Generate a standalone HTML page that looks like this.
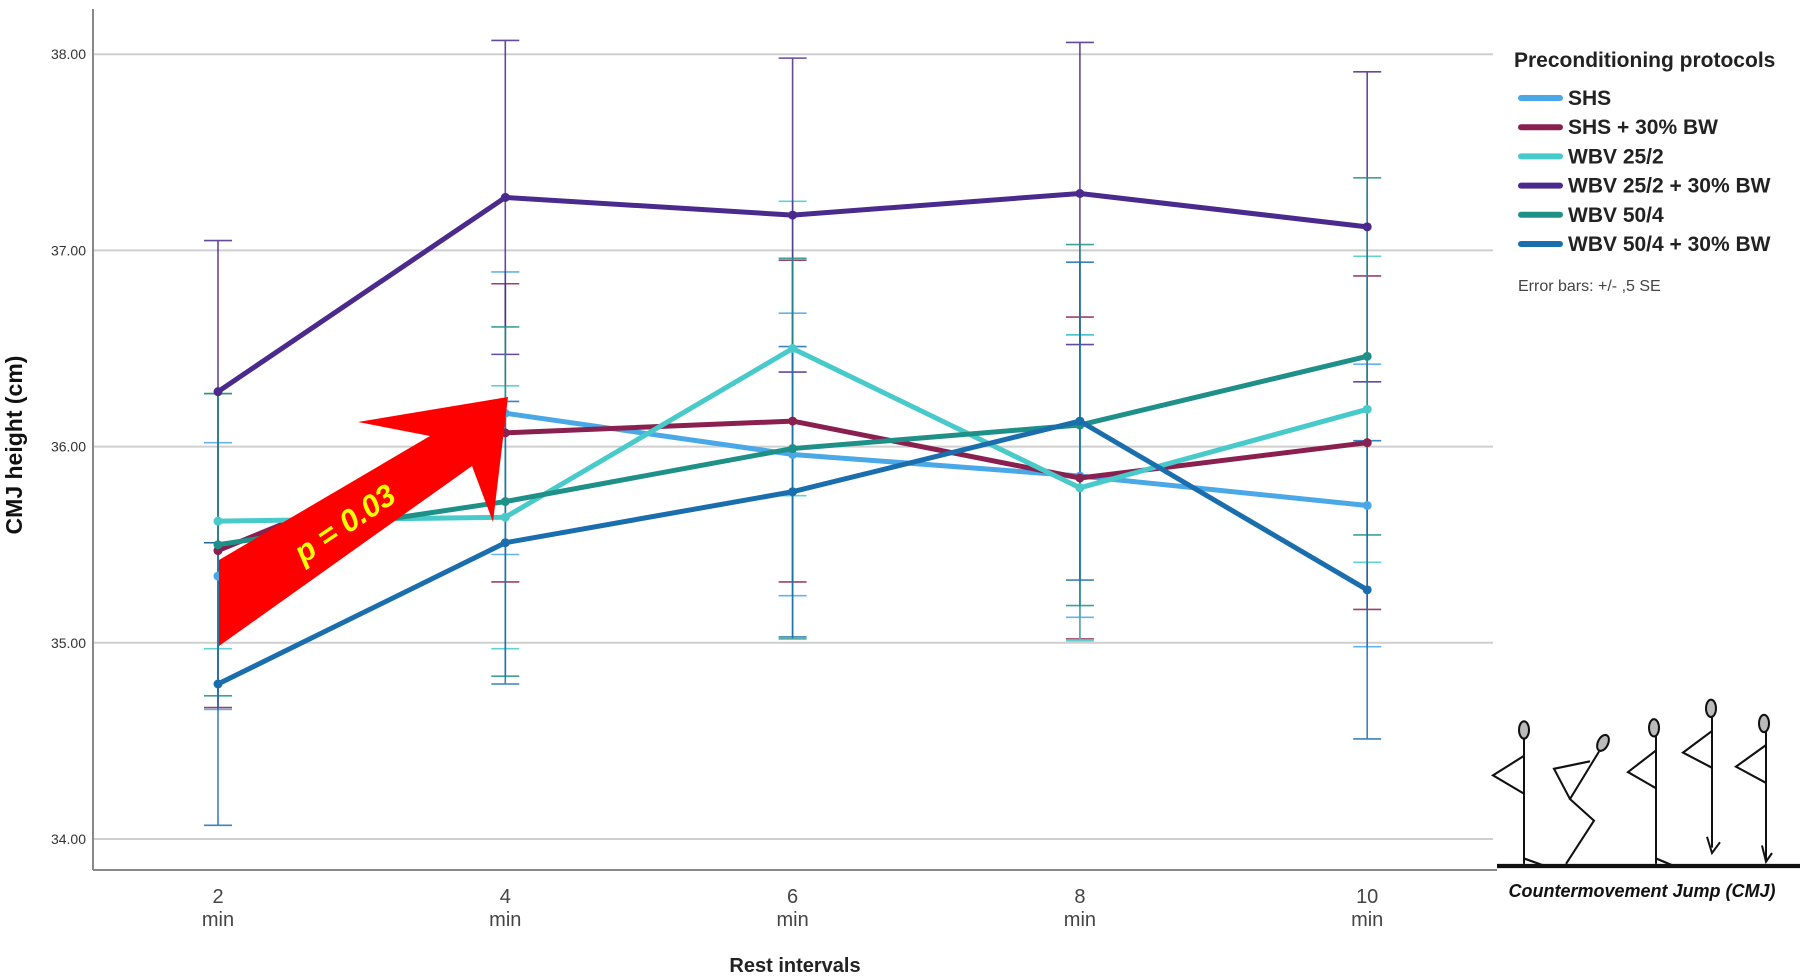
<!DOCTYPE html>
<html><head><meta charset="utf-8"><style>
html,body{margin:0;padding:0;background:#fff;}
svg{display:block;font-family:"Liberation Sans",sans-serif;}
</style></head><body>
<svg id="chart" width="1805" height="977" viewBox="0 0 1805 977">
<g id="grid"></g>
<g id="axes"></g>
<g id="series"></g>
<g>
<polygon points="219,646 219,560 430,436 358,422 508,397 493,522 472,466" fill="#ff0000"/>
<text x="345" y="534" transform="rotate(-34 345 524)" text-anchor="middle" font-size="31" font-weight="bold" font-style="italic" fill="#ffff00">p = 0.03</text>
</g>
<g id="legend">
<text x="1514" y="67" font-size="21" font-weight="bold" fill="#222">Preconditioning protocols</text>
<text x="1518" y="291" font-size="16" fill="#444">Error bars: +/- ,5 SE</text>
</g>
<g>
<g stroke="#111" stroke-width="2" fill="none" transform="matrix(1,0,0,1.0798,0,0)">
<line x1="1497" y1="802" x2="1800" y2="802" stroke-width="4"/>
<ellipse cx="1524" cy="676" rx="5" ry="8" fill="#bbb"/><line x1="1524" y1="684" x2="1524" y2="800"/><polyline points="1524,700 1493,718 1524,735"/><polyline points="1524,795 1545,802"/>
<ellipse cx="1603" cy="688" rx="5" ry="8" fill="#bbb" transform="rotate(30 1603 688)"/><polyline points="1599,696 1570,740 1594,760 1566,800"/><polyline points="1590,705 1554,712 1570,740"/>
<ellipse cx="1654" cy="674" rx="5" ry="8" fill="#bbb"/><line x1="1656" y1="682" x2="1656" y2="800"/><polyline points="1656,695 1628,715 1656,730"/><polyline points="1656,795 1674,802"/>
<ellipse cx="1711" cy="656" rx="5" ry="8" fill="#bbb"/><line x1="1712" y1="664" x2="1712" y2="785"/><polyline points="1712,677 1683,697 1712,711"/><polyline points="1707,775 1712,790 1720,780"/>
<ellipse cx="1764" cy="670" rx="5" ry="8" fill="#bbb"/><line x1="1766" y1="678" x2="1766" y2="798"/><polyline points="1766,690 1736,710 1766,725"/><polyline points="1762,783 1766,798 1772,790"/>
</g>
<text x="1642" y="897" text-anchor="middle" font-size="18" font-weight="bold" font-style="italic" fill="#111">Countermovement Jump (CMJ)</text>
</g>
</svg>
<script>
const categories = ["2","4","6","8","10"];
const yTicks = [34,35,36,37,38];
const seriesNames = ["SHS","SHS + 30% BW","WBV 25/2","WBV 25/2 + 30% BW","WBV 50/4","WBV 50/4 + 30% BW"];
const seriesColors = ["#4aa8e6","#8a2050","#48caca","#4a2a8c","#1e9088","#1a6eae"];
const shsValues = [35.34,36.17,35.96,35.85,35.70];
const shsBwValues = [35.47,36.07,36.13,35.84,36.02];
const wbv25Values = [35.62,35.64,36.50,35.79,36.19];
const wbv25BwValues = [36.28,37.27,37.18,37.29,37.12];
const wbv50Values = [35.50,35.72,35.99,36.11,36.46];
const wbv50BwValues = [34.79,35.51,35.77,36.13,35.27];
const shsErr = [0.68,0.72,0.72,0.72,0.72];
const shsBwErr = [0.80,0.76,0.82,0.82,0.85];
const wbv25Err = [0.65,0.67,0.75,0.78,0.78];
const wbv25BwErr = [0.77,0.80,0.80,0.77,0.79];
const wbv50Err = [0.77,0.89,0.97,0.92,0.91];
const wbv50BwErr = [0.72,0.72,0.74,0.81,0.76];
const allValues=[shsValues,shsBwValues,wbv25Values,wbv25BwValues,wbv50Values,wbv50BwValues];
const allErr=[shsErr,shsBwErr,wbv25Err,wbv25BwErr,wbv50Err,wbv50BwErr];
const NS="http://www.w3.org/2000/svg";
function X(i){return 218+i*287.3;}
function Y(v){return 839-(v-34)*196.2;}
function mk(tag,attrs,parent){const e=document.createElementNS(NS,tag);for(const k in attrs)e.setAttribute(k,attrs[k]);parent.appendChild(e);return e;}
const grid=document.getElementById('grid'),axes=document.getElementById('axes'),ser=document.getElementById('series'),leg=document.getElementById('legend');
yTicks.forEach(t=>{
 const l=mk('line',{x1:93,x2:1493,y1:Y(t),y2:Y(t),stroke:'#cfcfcf','stroke-width':2},grid);
 
 
 const tx=mk('text',{x:86,y:Y(t)+5,'text-anchor':'end','font-size':14,fill:'#333'},axes);
 tx.textContent=t.toFixed(2);
 
 
});
const ya=mk('line',{x1:93,x2:93,y1:9,y2:870,stroke:'#888','stroke-width':2},axes);


const xa=mk('line',{x1:93,x2:1497,y1:870,y2:870,stroke:'#888','stroke-width':2},axes);


categories.forEach((c,i)=>{
 const t=mk('text',{x:X(i),y:903,'text-anchor':'middle','font-size':20,fill:'#444'},axes);t.textContent=c;
 
 
 const m=mk('text',{x:X(i),y:926,'text-anchor':'middle','font-size':20,fill:'#444'},axes);m.textContent='min';
 
 
});
const xt=mk('text',{x:795,y:972,'text-anchor':'middle','font-size':20,'font-weight':'bold',fill:'#222'},axes);xt.textContent='Rest intervals';


const yt=mk('text',{x:0,y:0,'text-anchor':'middle','font-size':23,'font-weight':'bold',fill:'#111',transform:'translate(22,445) rotate(-90)'},axes);yt.textContent='CMJ height (cm)';


allValues.forEach((vals,s)=>{
 vals.forEach((v,i)=>{
  const e=allErr[s][i],x=X(i),c=seriesColors[s];
  const g=mk('g',{stroke:c,'stroke-width':1.6,opacity:0.85},ser);
  
  
  mk('line',{x1:x,x2:x,y1:Y(v+e),y2:Y(v-e)},g);
  mk('line',{x1:x-14,x2:x+14,y1:Y(v+e),y2:Y(v+e)},g);
  mk('line',{x1:x-14,x2:x+14,y1:Y(v-e),y2:Y(v-e)},g);
 });
});
allValues.forEach((vals,s)=>{
 const p=mk('polyline',{points:vals.map((v,i)=>X(i)+','+Y(v)).join(' '),fill:'none',stroke:seriesColors[s],'stroke-width':5,'stroke-linejoin':'round'},ser);
 
 
 vals.forEach((v,i)=>{
  const d=mk('circle',{cx:X(i),cy:Y(v),r:4.5,fill:seriesColors[s]},ser);
  
  
 });
 const ly=98+s*29.2;
 const sw=mk('line',{x1:1521,x2:1560,y1:ly,y2:ly,stroke:seriesColors[s],'stroke-width':6,'stroke-linecap':'round'},leg);
 
 
 const lt=mk('text',{x:1568,y:ly+7,'font-size':21,'font-weight':'bold',fill:'#222'},leg);lt.textContent=seriesNames[s];
 
 
});
</script>
</body></html>
